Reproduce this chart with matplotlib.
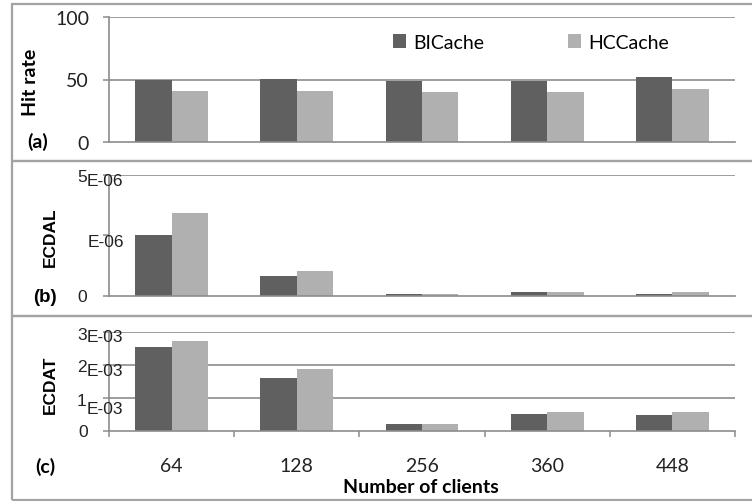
import matplotlib
matplotlib.use('Agg')
import matplotlib.pyplot as plt
from matplotlib.patches import Rectangle

clients = ['64', '128', '256', '360', '448']
series = ['BICache', 'HCCache']

hit_bicache = [49.6, 50.4, 49.0, 49.0, 52.0]
hit_hccache = [41.0, 41.0, 40.0, 40.0, 42.3]

ecdal_bicache = [2.52e-6, 0.81e-6, 0.07e-6, 0.14e-6, 0.07e-6]
ecdal_hccache = [3.43e-6, 1.02e-6, 0.06e-6, 0.14e-6, 0.14e-6]

ecdat_bicache = [2.55e-3, 1.62e-3, 0.22e-3, 0.52e-3, 0.47e-3]
ecdat_hccache = [2.72e-3, 1.87e-3, 0.22e-3, 0.58e-3, 0.58e-3]

W, H = 752, 502
DARK = '#606060'
LIGHT = '#b0b0b0'
GRID = '#8c8c8c'
FRAME = '#a3a3a3'
TXT = '#222222'
CAL = 'Lato'
ARI = 'Liberation Sans'
FS = 14      # calibri-like text
FSA = 12.5   # arial-like text

fig = plt.figure(figsize=(W / 100, H / 100), dpi=100)


def box(x0, y0, x1, y1):
    # pixel box (top-left origin) -> figure coords
    return [x0 / W, 1 - y1 / H, (x1 - x0) / W, (y1 - y0) / H]


def frame(y0, y1):
    r = Rectangle((12 / W, 1 - y1 / H), 760 / W, (y1 - y0) / H,
                  transform=fig.transFigure, fill=False, edgecolor=FRAME,
                  linewidth=1.6, clip_on=False)
    fig.patches.append(r)


frame(5, 162)
frame(162, 317)
frame(317, 501)

ax_a = fig.add_axes(box(109, 18.3, 735, 142.7))
ax_b = fig.add_axes(box(109, 176, 735, 296.7))
ax_c = fig.add_axes(box(109, 333, 735, 432))

x = list(range(len(clients)))
bw = 0.29


def bars(ax, v1, v2):
    b1 = ax.bar([i - bw / 2 for i in x], v1, bw, color=DARK, zorder=2)
    b2 = ax.bar([i + bw / 2 for i in x], v2, bw, color=LIGHT, zorder=2)
    ax.set_xlim(-0.5, len(clients) - 0.5)
    for s in ['top', 'right']:
        ax.spines[s].set_visible(False)
    for s in ['left', 'bottom']:
        ax.spines[s].set_color(GRID)
        ax.spines[s].set_linewidth(1.2)
    ax.tick_params(axis='y', length=4.3, width=1.1, color=GRID)
    ax.tick_params(axis='x', length=0)
    ax.set_xticks([])
    return b1, b2


ha1, ha2 = bars(ax_a, hit_bicache, hit_hccache)
bars(ax_b, ecdal_bicache, ecdal_hccache)
bars(ax_c, ecdat_bicache, ecdat_hccache)

# (a) hit rate
ax_a.set_ylim(0, 100)
ax_a.set_yticks([0, 50, 100])
ax_a.set_yticklabels(['0', '50', '100'], fontfamily=CAL, fontsize=FS, color=TXT)
ax_a.tick_params(axis='y', pad=10)
for g in [50, 100]:
    ax_a.axhline(g, color=GRID, lw=1.2, zorder=1)
ax_a.legend([ha1, ha2], series, loc='center', bbox_to_anchor=(0.674, 0.80), ncol=2,
            frameon=False, handlelength=0.68, handleheight=0.68,
            handletextpad=0.35, columnspacing=4.3,
            prop={'family': CAL, 'size': FS})

# (b) ECDAL - broken Excel style labels
ax_b.set_ylim(0, 5e-6)
ax_b.set_yticks([0, 2.5e-6, 5e-6])
ax_b.set_yticklabels([])
ax_b.axhline(5e-6, color=GRID, lw=1.2, zorder=1)
tb = ax_b.get_yaxis_transform()
ax_b.annotate('5', (0, 5e-6), xycoords=tb, xytext=(-32, -2), textcoords='offset pixels',
              ha='left', va='center', fontfamily=ARI, fontsize=FSA, color=TXT)
ax_b.annotate('E-06', (0, 5e-6), xycoords=tb, xytext=(-22, -6), textcoords='offset pixels',
              ha='left', va='center', fontfamily=ARI, fontsize=FSA, color=TXT)
ax_b.annotate('E-06', (0, 2.5e-6), xycoords=tb, xytext=(-21, -6), textcoords='offset pixels',
              ha='left', va='center', fontfamily=ARI, fontsize=FSA, color=TXT)
ax_b.annotate('0', (0, 0), xycoords=tb, xytext=(-22, -1), textcoords='offset pixels',
              ha='right', va='center', fontfamily=ARI, fontsize=FSA, color=TXT)

# (c) ECDAT
ax_c.set_ylim(0, 3e-3)
ax_c.set_yticks([0, 1e-3, 2e-3, 3e-3])
ax_c.set_yticklabels([])
for g in [1e-3, 2e-3, 3e-3]:
    ax_c.axhline(g, color=GRID, lw=1.2, zorder=1)
tc = ax_c.get_yaxis_transform()
for val, d, off in [(3e-3, '3', -5), (2e-3, '2', -6), (1e-3, '1', -10)]:
    ax_c.annotate(d, (0, val), xycoords=tc, xytext=(-32, -2), textcoords='offset pixels',
                  ha='left', va='center', fontfamily=ARI, fontsize=FSA, color=TXT)
    ax_c.annotate('E-03', (0, val), xycoords=tc, xytext=(-22, off), textcoords='offset pixels',
                  ha='left', va='center', fontfamily=ARI, fontsize=FSA, color=TXT)
ax_c.annotate('0', (0, 0), xycoords=tc, xytext=(-21, -1), textcoords='offset pixels',
              ha='right', va='center', fontfamily=ARI, fontsize=FSA, color=TXT)

ax_c.set_xticks([i - 0.5 for i in range(len(clients) + 1)])
ax_c.set_xticklabels([])
ax_c.tick_params(axis='x', length=4.3, width=1.1, color=GRID, direction='out')
ax_c.set_xticks(x, minor=True)
ax_c.set_xticklabels(clients, minor=True, fontfamily=CAL, fontsize=FS, color=TXT)
ax_c.tick_params(axis='x', which='minor', length=0, pad=19)

# axis titles and panel tags
fig.text(30 / W, 1 - 82.5 / H, 'Hit rate', rotation=90, ha='center', va='center',
         fontfamily=CAL, fontweight='bold', fontsize=FS)
fig.text(50 / W, 1 - 237 / H, 'ECDAL', rotation=90, ha='center', va='center',
         fontfamily=ARI, fontweight='bold', fontsize=FSA)
fig.text(50 / W, 1 - 385 / H, 'ECDAT', rotation=90, ha='center', va='center',
         fontfamily=ARI, fontweight='bold', fontsize=FSA)
fig.text(38 / W, 1 - 142 / H, '(a)', ha='center', va='center',
         fontfamily=CAL, fontweight='bold', fontsize=FS)
fig.text(45 / W, 1 - 298 / H, '(b)', ha='center', va='center',
         fontfamily=ARI, fontweight='bold', fontsize=FSA + 1)
fig.text(45 / W, 1 - 467 / H, '(c)', ha='center', va='center',
         fontfamily=CAL, fontweight='bold', fontsize=FS)
fig.text(421 / W, 1 - 488 / H, 'Number of clients', ha='center', va='center',
         fontfamily=CAL, fontweight='bold', fontsize=FS)

fig.savefig('out.png', dpi=100)
